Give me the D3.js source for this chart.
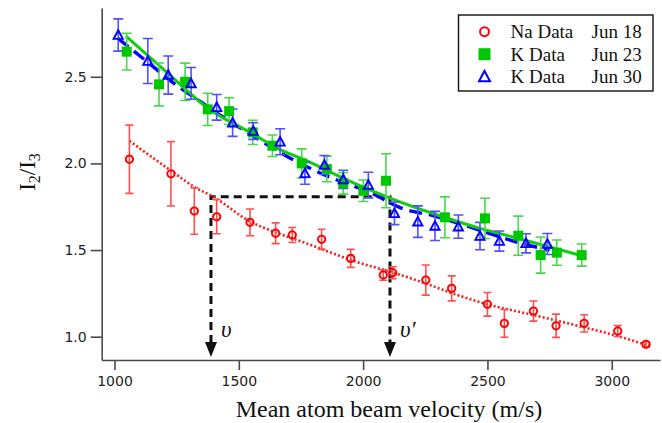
<!DOCTYPE html>
<html>
<head>
<meta charset="utf-8">
<script src="https://cdnjs.cloudflare.com/ajax/libs/d3/7.8.5/d3.min.js"></script>
<style>
  body { margin: 0; background: #fff; }
  .tick text { font-family: "DejaVu Sans", sans-serif; font-size: 14px; fill: #222; }
  .serif { font-family: "Liberation Serif", "Times New Roman", serif; fill: #111; }
</style>
</head>
<body>
<div id="chart"></div>
<script>
// Na data, Jun 18
var naVel   = [1060, 1227, 1321, 1411, 1545, 1648, 1715, 1833, 1950, 2081, 2119, 2252, 2356, 2500, 2568, 2685, 2776, 2889, 3024, 3138];
var naRatio = [2.024, 1.94, 1.725, 1.692, 1.66, 1.597, 1.587, 1.562, 1.452, 1.356, 1.369, 1.327, 1.279, 1.187, 1.077, 1.148, 1.063, 1.077, 1.033, 0.956];
var naErr   = [0.197, 0.186, 0.134, 0.098, 0.077, 0.06, 0.043, 0.058, 0.052, 0.03, 0.035, 0.087, 0.072, 0.068, 0.08, 0.058, 0.067, 0.05, 0.032, 0.015];

// K data, Jun 23
var k23Vel   = [1049, 1179, 1284, 1375, 1461, 1556, 1635, 1753, 1854, 1920, 2001, 2092, 2329, 2490, 2624, 2714, 2779, 2879];
var k23Ratio = [2.645, 2.456, 2.471, 2.312, 2.302, 2.179, 2.102, 2.0, 1.968, 1.885, 1.842, 1.9, 1.689, 1.683, 1.583, 1.471, 1.485, 1.471];
var k23Err   = [0.106, 0.124, 0.108, 0.093, 0.077, 0.07, 0.062, 0.084, 0.074, 0.062, 0.062, 0.156, 0.118, 0.116, 0.113, 0.104, 0.073, 0.064];

// K data, Jun 30
var k30Vel   = [1015, 1134, 1216, 1308, 1411, 1475, 1558, 1666, 1766, 1844, 1920, 2021, 2126, 2220, 2289, 2383, 2470, 2548, 2655, 2741];
var k30Ratio = [2.741, 2.591, 2.51, 2.462, 2.324, 2.235, 2.187, 2.125, 1.943, 1.991, 1.908, 1.875, 1.712, 1.664, 1.639, 1.635, 1.581, 1.552, 1.539, 1.535];
var k30Err   = [0.093, 0.13, 0.11, 0.092, 0.074, 0.079, 0.048, 0.075, 0.063, 0.055, 0.053, 0.074, 0.065, 0.091, 0.084, 0.067, 0.079, 0.058, 0.055, 0.061];

// fit curves
var naFitVel    = [1060, 1230, 1320, 1400, 1545, 1640, 1750, 1990, 2120, 2256, 2350, 2505, 2685, 2886, 3020, 3155];
var naFitRatio  = [2.13, 1.955, 1.865, 1.805, 1.665, 1.606, 1.55, 1.424, 1.37, 1.305, 1.255, 1.185, 1.125, 1.055, 1.005, 0.945];
var k23FitVel   = [1046, 1223, 1384, 1545, 1666, 1750, 1934, 2108, 2336, 2470, 2618, 2872];
var k23FitRatio = [2.735, 2.51, 2.31, 2.18, 2.08, 2.03, 1.905, 1.80, 1.685, 1.625, 1.57, 1.47];
var k30FitVel   = [1015, 1120, 1246, 1352, 1408, 1550, 1733, 1920, 2008, 2168, 2277, 2383, 2458, 2638, 2750];
var k30FitRatio = [2.72, 2.60, 2.455, 2.35, 2.295, 2.165, 2.01, 1.89, 1.845, 1.735, 1.70, 1.655, 1.62, 1.538, 1.50];

// v and v' guide
var guideVel   = [1388, 2108];
var guideRatio = 1.808;
var guideFloor = 0.883;
var guideLabels = ["\u03C5", "\u03C5\u2032"];

var xTicks = [1000, 1500, 2000, 2500, 3000];
var yTicks = [1.0, 1.5, 2.0, 2.5];

var legendNames = ["Na Data", "K Data", "K Data"];
var legendDates = ["Jun 18", "Jun 23", "Jun 30"];


RatioChart = function(_parentElement){
    this.parentElement = _parentElement;
    this.initVis();
}

RatioChart.prototype.initVis = function() {
    var vis = this;

    vis.margin = {top: 8, right: 2, bottom: 63, left: 101.7};
    vis.width = 662 - vis.margin.left - vis.margin.right;
    vis.height = 423 - vis.margin.top - vis.margin.bottom;

    vis.svg = d3.select('#' + vis.parentElement)
      .append("svg")
      .attr("width", 662)
      .attr("height", 423);

    vis.g = vis.svg.append("g")
      .attr("transform", "translate(" + vis.margin.left + "," + vis.margin.top + ")");

    vis.x = d3.scaleLinear().domain([948.5, 3194]).range([0, vis.width]);
    vis.y = d3.scaleLinear().domain([0.8655, 2.897]).range([vis.height, 0]);

    // axes
    vis.xAxis = d3.axisBottom(vis.x).tickValues(xTicks).tickSize(10).tickSizeOuter(0).tickPadding(6)
      .tickFormat(d3.format("d"));
    vis.yAxis = d3.axisLeft(vis.y).tickValues(yTicks).tickSize(11).tickSizeOuter(0).tickPadding(4)
      .tickFormat(d3.format(".1f"));

    vis.g.append("g")
      .attr("class", "axis")
      .attr("transform", "translate(0," + vis.height + ")")
      .call(vis.xAxis);
    vis.g.append("g")
      .attr("class", "axis")
      .call(vis.yAxis);

    vis.g.selectAll(".axis path, .axis line")
      .attr("stroke", "#4a4a4a")
      .attr("stroke-width", 1.6);

    vis.line = d3.line()
      .x(function(d) { return vis.x(d[0]); })
      .y(function(d) { return vis.y(d[1]); })
      .curve(d3.curveMonotoneX);

    // dashed guide lines with arrows
    var gy = vis.y(guideRatio);
    var tip = vis.y(guideFloor);
    vis.g.append("path")
      .attr("d", "M" + vis.x(guideVel[0]) + "," + (tip - 14) + "V" + gy + "H" + vis.x(guideVel[1]) + "V" + (tip - 14))
      .attr("fill", "none")
      .attr("stroke", "#111")
      .attr("stroke-width", 3)
      .attr("stroke-dasharray", "8,5");
    guideVel.forEach(function(v, i) {
      var gx = vis.x(v);
      vis.g.append("path")
        .attr("d", "M" + (gx - 6) + "," + (tip - 15) + "L" + (gx + 6) + "," + (tip - 15) + "L" + gx + "," + tip + "Z")
        .attr("fill", "#111");
      vis.g.append("text")
        .attr("class", "serif")
        .attr("x", gx + 10)
        .attr("y", vis.y(1.0))
        .attr("font-size", 23)
        .attr("font-style", "italic")
        .text(guideLabels[i]);
    });

    // fit curves
    vis.g.append("path")
      .attr("d", vis.line(d3.zip(naFitVel, naFitRatio)))
      .attr("fill", "none").attr("stroke", "#ff1a1a")
      .attr("stroke-width", 2.6).attr("stroke-dasharray", "2,2.2");
    vis.g.append("path")
      .attr("d", vis.line(d3.zip(k30FitVel, k30FitRatio)))
      .attr("fill", "none").attr("stroke", "#0000ff")
      .attr("stroke-width", 3.4).attr("stroke-dasharray", "13,7");
    vis.g.append("path")
      .attr("d", vis.line(d3.zip(k23FitVel, k23FitRatio)))
      .attr("fill", "none").attr("stroke", "#11cc11")
      .attr("stroke-width", 3);

    vis.series = [
      {vel: naVel, ratio: naRatio, err: naErr, bar: "#ff5050", mark: "#ff0000", shape: "circle", cap: 8},
      {vel: k23Vel, ratio: k23Ratio, err: k23Err, bar: "#4cd64c", mark: "#00c800", shape: "square", cap: 10},
      {vel: k30Vel, ratio: k30Ratio, err: k30Err, bar: "#5050ff", mark: "#0000ff", shape: "triangle", cap: 10}
    ];

    // error bars
    vis.series.forEach(function(s) {
      var pts = d3.range(s.vel.length);
      var eb = vis.g.append("g")
        .attr("stroke", s.bar)
        .attr("stroke-width", 1.6)
        .attr("fill", "none");
      eb.selectAll("path")
        .data(pts)
        .enter()
        .append("path")
        .attr("d", function(i) {
          var px = vis.x(s.vel[i]);
          var top = vis.y(s.ratio[i] + s.err[i]);
          var bot = vis.y(s.ratio[i] - s.err[i]);
          var h = s.cap / 2;
          return "M" + (px - h) + "," + top + "H" + (px + h) + "M" + px + "," + top + "V" + bot
            + "M" + (px - h) + "," + bot + "H" + (px + h);
        });
    });

    // markers
    vis.series.forEach(function(s) {
      var pts = d3.range(s.vel.length);
      var mk = vis.g.append("g");
      mk.selectAll("path")
        .data(pts)
        .enter()
        .append("path")
        .attr("transform", function(i) {
          return "translate(" + vis.x(s.vel[i]) + "," + vis.y(s.ratio[i]) + ")";
        })
        .attr("d", vis.shapePath(s.shape, 1))
        .attr("fill", s.shape == "square" ? s.mark : "none")
        .attr("stroke", s.shape == "square" ? "none" : s.mark)
        .attr("stroke-width", 1.9);
    });

    // legend
    vis.legend = vis.svg.append("g")
      .attr("transform", "translate(458.5,15)");
    vis.legend.append("rect")
      .attr("width", 194.5)
      .attr("height", 76)
      .attr("fill", "#fff")
      .attr("stroke", "#111")
      .attr("stroke-width", 1.4);
    vis.series.forEach(function(s, i) {
      var row = vis.legend.append("g")
        .attr("transform", "translate(0," + (16.7 + i * 22.5) + ")");
      row.append("path")
        .attr("transform", "translate(26,0)")
        .attr("d", vis.shapePath(s.shape, 1.2))
        .attr("fill", s.shape == "square" ? s.mark : "none")
        .attr("stroke", s.shape == "square" ? "none" : s.mark)
        .attr("stroke-width", 2);
      row.append("text")
        .attr("class", "serif")
        .attr("x", 52)
        .attr("y", 6.5)
        .attr("font-size", 19)
        .text(legendNames[i]);
      row.append("text")
        .attr("class", "serif")
        .attr("x", 133)
        .attr("y", 6.5)
        .attr("font-size", 19)
        .text(legendDates[i]);
    });

    // axis titles
    vis.svg.append("text")
      .attr("class", "serif")
      .attr("x", 389)
      .attr("y", 416.5)
      .attr("text-anchor", "middle")
      .attr("font-size", 24)
      .text("Mean atom beam velocity (m/s)");

    var yt = vis.svg.append("text")
      .attr("class", "serif")
      .attr("transform", "translate(35,172) rotate(-90)")
      .attr("text-anchor", "middle")
      .attr("font-size", 23);
    yt.append("tspan").text("I");
    yt.append("tspan").attr("dy", 5).attr("font-size", 16).text("2");
    yt.append("tspan").attr("dy", -5).text("/I");
    yt.append("tspan").attr("dy", 5).attr("font-size", 16).text("3");
};

RatioChart.prototype.shapePath = function(shape, k) {
    if (shape == "circle") {
      var r = 3.7 * k;
      return "M" + (-r) + ",0A" + r + "," + r + " 0 1,0 " + r + ",0A" + r + "," + r + " 0 1,0 " + (-r) + ",0Z";
    }
    if (shape == "square") {
      var h = 5 * k;
      return "M" + (-h) + "," + (-h) + "H" + h + "V" + h + "H" + (-h) + "Z";
    }
    var w = 4.6 * k, t = 4.8 * k;
    return "M0," + (-t) + "L" + w + "," + (t * 0.8) + "L" + (-w) + "," + (t * 0.8) + "Z";
};

var chart = new RatioChart("chart");
</script>
</body>
</html>
